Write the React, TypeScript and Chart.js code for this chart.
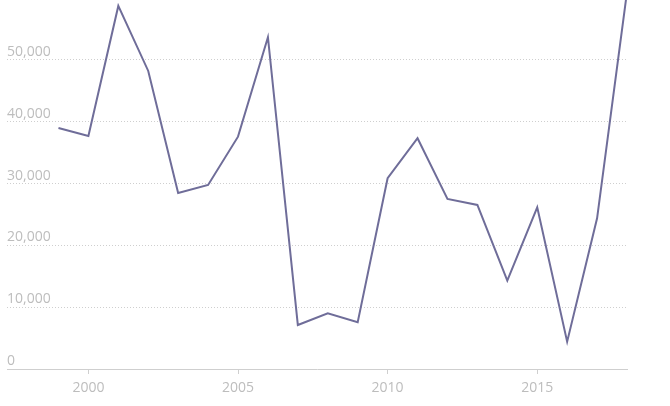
import React, { useEffect, useRef } from "react";
import { Chart, registerables } from "chart.js";

Chart.register(...registerables);

const years = [1999, 2000, 2001, 2002, 2003, 2004, 2005, 2006, 2007, 2008, 2009, 2010, 2011, 2012, 2013, 2014, 2015, 2016, 2017, 2018];
const values = [39000, 37700, 58740, 48220, 28480, 29770, 37590, 53670, 7120, 9010, 7560, 30860, 37330, 27510, 26540, 14290, 26160, 4420, 24380, 61000];
const yTicks = [0, 10000, 20000, 30000, 40000, 50000];
const xTicks = [2000, 2005, 2010, 2015];

const FONT = "'Open Sans', sans-serif";
const TEXT = "#bdbdbd";
const GRID = "#cfcfcf";

const yLabelPlugin = {
  id: "yLabels",
  afterDraw(chart: any) {
    const ctx = chart.ctx;
    const y = chart.scales.y;
    const area = chart.chartArea;
    ctx.save();
    ctx.font = "14px " + FONT;
    ctx.fillStyle = TEXT;
    ctx.textAlign = "left";
    ctx.textBaseline = "alphabetic";
    yTicks.forEach((v) => {
      const py = y.getPixelForValue(v);
      ctx.fillText(v.toLocaleString("en-US"), area.left, py - 4);
    });
    ctx.restore();
  },
};

export default function App() {
  const ref = useRef<HTMLCanvasElement>(null);
  useEffect(() => {
    document.body.style.margin = "0";
    const chart = new Chart(ref.current!, {
      type: "line",
      data: {
        datasets: [
          {
            data: years.map((yr, i) => ({ x: yr, y: values[i] })),
            borderColor: "#6f6d99",
            borderWidth: 2,
            pointRadius: 0,
            tension: 0,
            fill: false,
          },
        ],
      },
      options: {
        animation: false,
        responsive: false,
        maintainAspectRatio: false,
        layout: { padding: { left: 7, right: 43, top: 0, bottom: 0 } },
        plugins: { legend: { display: false }, tooltip: { enabled: false } },
        scales: {
          x: {
            type: "linear",
            min: 1997.28,
            max: 2018,
            afterBuildTicks: (scale: any) => {
              scale.ticks = xTicks.map((v) => ({ value: v }));
            },
            afterFit: (scale: any) => {
              scale.height = 37;
            },
            grid: { drawOnChartArea: false, drawTicks: true, tickLength: 5, color: GRID },
            border: { display: true, color: GRID, width: 1 },
            ticks: {
              color: TEXT,
              font: { family: FONT, size: 14 },
              padding: 6,
              maxRotation: 0,
              callback: (v: any) => String(v),
            },
          },
          y: {
            type: "linear",
            min: 0,
            max: 59700,
            afterBuildTicks: (scale: any) => {
              scale.ticks = yTicks.map((v) => ({ value: v }));
            },
            afterFit: (scale: any) => {
              scale.width = 0;
            },
            ticks: { display: false },
            grid: { color: GRID, drawTicks: false, lineWidth: 1 },
            border: { display: false, dash: [1, 2] },
          },
        },
      },
      plugins: [yLabelPlugin],
    } as any);
    return () => chart.destroy();
  }, []);
  return (
    <div style={{ width: 670, height: 406 }}>
      <canvas ref={ref} width={670} height={406} />
    </div>
  );
}
